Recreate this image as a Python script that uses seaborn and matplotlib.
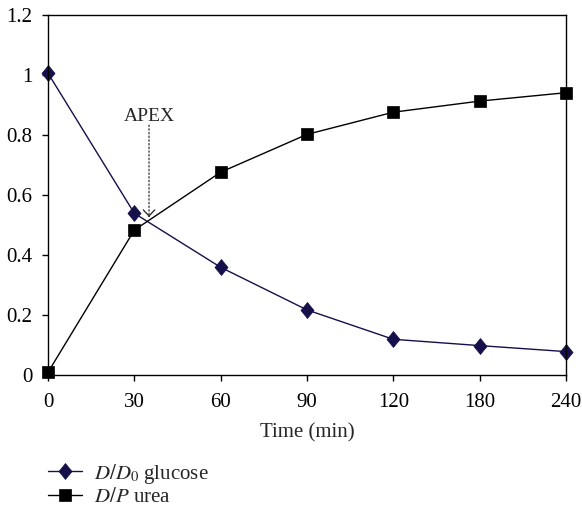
import pandas as pd
import numpy as np
import seaborn as sns
import matplotlib.pyplot as plt
from matplotlib.path import Path

sns.set_style("white")
plt.rcParams['font.family'] = ['Liberation Serif', 'DejaVu Serif']
plt.rcParams['mathtext.fontset'] = 'stix'

times = ['0', '30', '60', '90', '120', '180', '240']
glucose = [1.006, 0.539, 0.359, 0.217, 0.119, 0.098, 0.078]
urea = [0.009, 0.483, 0.676, 0.802, 0.876, 0.913, 0.941]

navy = '#15104a'

df = pd.DataFrame({'time': times, 'glucose': glucose, 'urea': urea})

# slightly narrow diamond like the original
diamond = Path([(0, 1), (0.82, 0), (0, -1), (-0.82, 0), (0, 1)],
               [Path.MOVETO, Path.LINETO, Path.LINETO, Path.LINETO, Path.CLOSEPOLY])

fig = plt.figure(figsize=(5.82, 5.09), dpi=100)
ax = fig.add_axes([48 / 582, 1 - 375 / 509, 518 / 582, 360 / 509])

sns.lineplot(data=df, x='time', y='glucose', ax=ax, color=navy, lw=1,
             marker=diamond, markersize=11.5, markeredgecolor=navy, markeredgewidth=0.5,
             label=r'$D/D_0$ glucose', sort=False, legend=False, clip_on=False)
sns.lineplot(data=df, x='time', y='urea', ax=ax, color='black', lw=1,
             marker='s', markersize=8.5, markeredgecolor='black', markeredgewidth=0.5,
             label=r'$D/P$ urea', sort=False, legend=False, clip_on=False)

ax.set_xlim(0, len(times) - 1)
ax.set_ylim(0, 1.2)
ax.set_yticks([0, 0.2, 0.4, 0.6, 0.8, 1.0, 1.2])
ax.set_yticklabels(['0', '0.2', '0.4', '0.6', '0.8', '1', '1.2'])
ax.set_xlabel('Time (min)', fontsize=15, labelpad=8.5)
ax.set_ylabel('')
ax.tick_params(axis='both', which='both', direction='out', length=4.3, width=1,
               labelsize=15, left=True, bottom=True, colors='black')
ax.tick_params(axis='x', pad=8.5)
ax.tick_params(axis='y', pad=7)
for s in ax.spines.values():
    s.set_color('black')
    s.set_linewidth(1)
    s.set_visible(True)

# APEX label with dotted shaft and solid open head
ax.text(1.17, 0.847, 'APEX', ha='center', va='baseline', fontsize=14)
ax.annotate('', xy=(1.17, 0.527), xytext=(1.17, 0.833),
            arrowprops=dict(arrowstyle='-', linestyle=':', color='#444444', lw=1,
                            shrinkA=0, shrinkB=0))
ax.annotate('', xy=(1.17, 0.527), xytext=(0, 1), textcoords='offset points',
            arrowprops=dict(arrowstyle='->,head_width=0.41,head_length=0.43',
                            color='#333333', lw=1, shrinkA=0, shrinkB=0))

h, l = ax.get_legend_handles_labels()
fig.legend(h, l, loc='upper left', bbox_to_anchor=(48 / 582, (509 - 461.5) / 509),
           frameon=False, fontsize=15, handlelength=1.63, labelspacing=0.1,
           borderaxespad=0, borderpad=0, handletextpad=0.6)

fig.savefig('out.png', dpi=100)
